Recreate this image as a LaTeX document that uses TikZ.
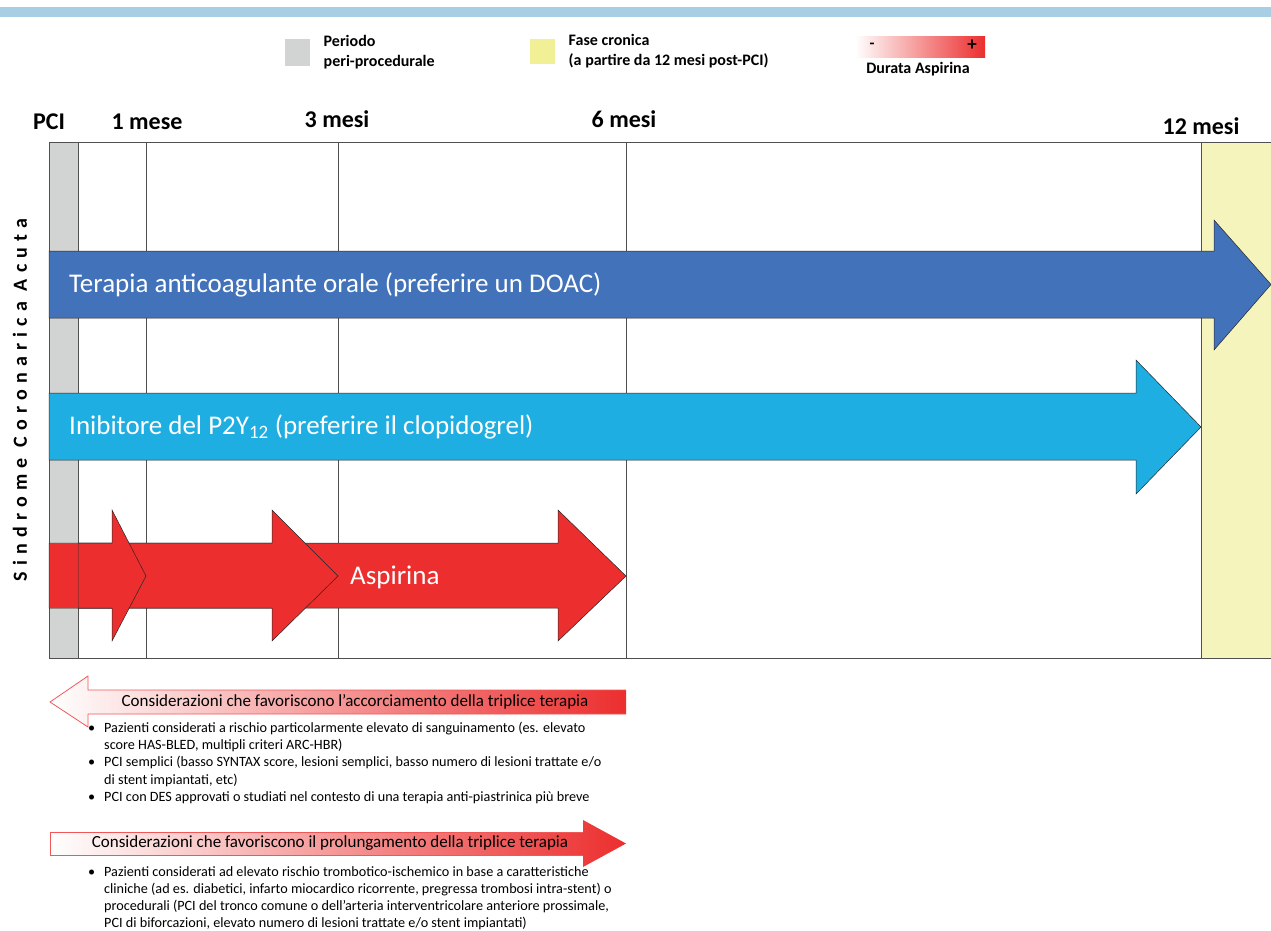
\documentclass[tikz,border=0pt]{standalone}
\usepackage{fontspec}
\setmainfont{Carlito}
\usetikzlibrary{positioning}
\definecolor{topBlue}{RGB}{168, 206, 228}
\definecolor{periGray}{RGB}{210, 211, 211}
\definecolor{cronYellow}{RGB}{245, 244, 188}
\definecolor{legYellow}{RGB}{242, 240, 150}
\definecolor{gridGray}{RGB}{80, 80, 80}
\definecolor{oacBlue}{RGB}{66, 114, 185}
\definecolor{p2yCyan}{RGB}{30, 174, 226}
\definecolor{aspRed}{RGB}{236, 46, 46}

\begin{document}
\begin{tikzpicture}[
        x=1pt, y=-1pt,
        grid/.style={draw=gridGray, line width=0.8pt},
        outline/.style={draw=black!85, line width=0.5pt},
        legsq/.style={rectangle, draw=none, minimum width=25pt, minimum height=27pt, inner sep=0pt},
        legtext/.style={font=\bfseries\fontsize{16}{20}\selectfont, align=left},
        tick/.style={font=\bfseries\fontsize{24}{28}\selectfont, anchor=base},
        barlabel/.style={text=white, font=\fontsize{27}{31}\selectfont, anchor=west, inner sep=0pt},
        header/.style={font=\fontsize{17}{20}\selectfont, inner sep=0pt},
        bullets/.style={font=\fontsize{14.2}{17.2}\selectfont, align=left, anchor=north west, inner sep=0pt}
    ]
        \useasboundingbox (0,0) rectangle (1271,930);

        % Top bar
        \fill[topBlue] (0,7) rectangle (1271,17);

        % Legend
        \node[legsq, fill=periGray] (legperi) at (297.5,52) {};
        \node[legtext, right=10pt of legperi] (legperitext) {Periodo\\peri-procedurale};
        \node[legsq, fill=legYellow, minimum height=25pt] (legcron) at (542.5,51) {};
        \node[legtext, right=10pt of legcron] (legcrontext) {Fase cronica\\(a partire da 12 mesi post-PCI)};
        \shade[left color=white, right color=aspRed] (855,36) rectangle (985,57);
        \node[font=\bfseries\fontsize{16}{16}\selectfont] (legminus) at (872,46) {-};
        \node[font=\bfseries\fontsize{19}{19}\selectfont] (legplus) at (972,45) {+};
        \node[font=\bfseries\fontsize{16}{18}\selectfont] (legasp) at (918,69) {Durata Aspirina};

        % Time marks
        \node[tick] (tpci) at (49,129) {PCI};
        \node[tick] (t1) at (147,129) {1 mese};
        \node[tick] (t3) at (337,127) {3 mesi};
        \node[tick] (t6) at (624,127) {6 mesi};
        \node[tick] (t12) at (1201,134) {12 mesi};

        % Chart
        \fill[periGray] (49,142) rectangle (78,658);
        \fill[cronYellow] (1201,142) rectangle (1271,658);
        \draw[grid] (49,142) -- (1271,142);
        \draw[grid] (49,658) -- (1271,658);
        \foreach \x in {49, 78, 146, 338, 626, 1201}
            \draw[grid] (\x,142) -- (\x,658);

        % Therapy arrows
        \filldraw[fill=oacBlue, outline] (49,251) -- (1214,251) -- (1214,220) -- (1271,284.5) -- (1214,350) -- (1214,318) -- (49,318) -- cycle;
        \filldraw[fill=p2yCyan, outline] (49,393) -- (1136,393) -- (1136,360) -- (1201,427) -- (1136,494) -- (1136,460) -- (49,460) -- cycle;
        \filldraw[fill=aspRed, outline] (49,543) -- (558,543) -- (558,510) -- (626,576) -- (558,641) -- (558,608) -- (49,608) -- cycle;
        \filldraw[fill=aspRed, outline] (78,543) -- (272,543) -- (272,510) -- (338,576) -- (272,641) -- (272,608) -- (78,608) -- cycle;
        \filldraw[fill=aspRed, outline] (78,543) -- (112,543) -- (112,510) -- (146,576) -- (112,641) -- (112,608) -- (78,608) -- cycle;
        \fill[aspRed] (49.6,543.4) rectangle (77.6,607.6);

        \node[barlabel] (oac) at (69,285) {Terapia anticoagulante orale (preferire un DOAC)};
        \node[barlabel] (p2y) at (69,427) {Inibitore del P2Y\textsubscript{12} (preferire il clopidogrel)};
        \node[barlabel] (asa) at (350,577) {Aspirina};

        % Side label
        \node[rotate=90, font=\bfseries\fontsize{20}{24}\selectfont\addfontfeature{LetterSpace=31}] (sca) at (20,400) {Sindrome Coronarica Acuta};

        % Shortening considerations
        \shade[left color=white, right color=aspRed] (626,690) -- (88,690) -- (88,676) -- (50,702) -- (88,727) -- (88,714) -- (626,714) -- cycle;
        \draw[aspRed!80, line width=0.8pt] (626,690) -- (88,690) -- (88,676) -- (50,702) -- (88,727) -- (88,714) -- (626,714);
        \node[header] (short) at (355,702) {Considerazioni che favoriscono l’accorciamento della triplice terapia};
        \node[bullets] (shortlist) at (88,722) {%
            \makebox[16pt][l]{\textbullet}Pazienti considerati a rischio particolarmente elevato di sanguinamento (es. elevato\\
            \hspace*{16pt}score HAS-BLED, multipli criteri ARC-HBR)\\
            \makebox[16pt][l]{\textbullet}PCI semplici (basso SYNTAX score, lesioni semplici, basso numero di lesioni trattate e/o\\
            \hspace*{16pt}di stent impiantati, etc)\\
            \makebox[16pt][l]{\textbullet}PCI con DES approvati o studiati nel contesto di una terapia anti-piastrinica più breve};

        % Prolongation considerations
        \shade[left color=white, right color=aspRed] (50,832) -- (583,832) -- (583,820) -- (626,843.5) -- (583,867) -- (583,855) -- (50,855) -- cycle;
        \draw[aspRed!80, line width=0.8pt] (583,832) -- (50,832) -- (50,855) -- (583,855);
        \node[header] (long) at (330,843) {Considerazioni che favoriscono il prolungamento della triplice terapia};
        \node[bullets] (longlist) at (88,866) {%
            \makebox[16pt][l]{\textbullet}Pazienti considerati ad elevato rischio trombotico-ischemico in base a caratteristiche\\
            \hspace*{16pt}cliniche (ad es. diabetici, infarto miocardico ricorrente, pregressa trombosi intra-stent) o\\
            \hspace*{16pt}procedurali (PCI del tronco comune o dell’arteria interventricolare anteriore prossimale,\\
            \hspace*{16pt}PCI di biforcazioni, elevato numero di lesioni trattate e/o stent impiantati)};
    \end{tikzpicture}
\end{document}
